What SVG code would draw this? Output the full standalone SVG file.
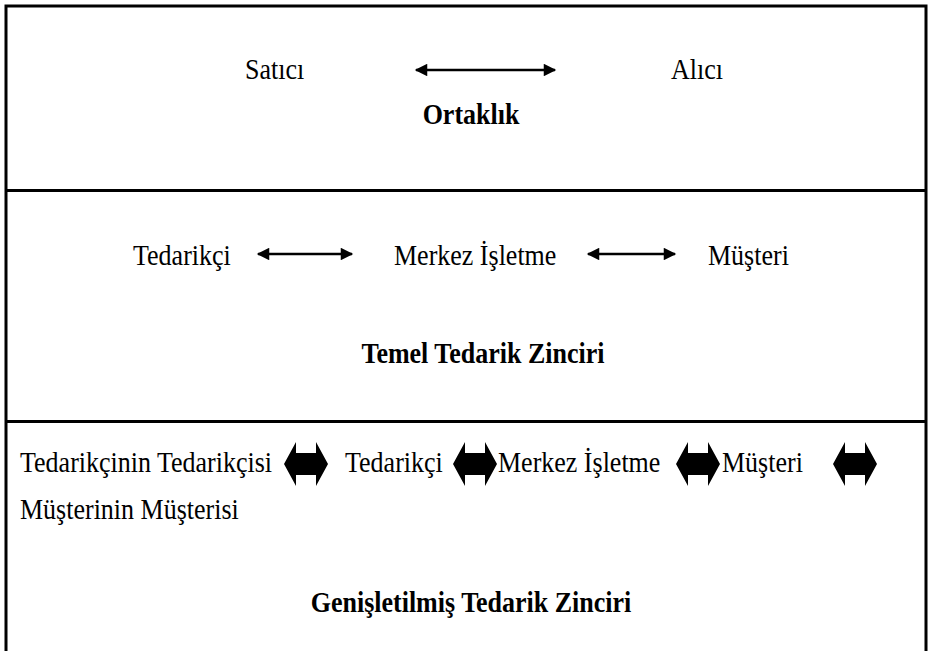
<svg xmlns="http://www.w3.org/2000/svg" width="930" height="651" viewBox="0 0 930 651">
<style>
.t{font-family:"Liberation Serif","Times New Roman",serif;font-size:26px;fill:#000}
.b{font-weight:bold}
.frame{stroke:#000;stroke-width:3;fill:none}
.ln{stroke:#000;stroke-width:2.5;fill:none}
.blk{fill:#000}
</style>
<defs>
<marker id="ah" viewBox="0 0 10 10" refX="9" refY="5" markerWidth="5.5" markerHeight="5" orient="auto-start-reverse" markerUnits="strokeWidth">
<path d="M0,0 L10,5 L0,10 Z" fill="#000"/>
</marker>
<path id="blockArrow" d="M0,22 L12,0 L12,11 L32,11 L32,0 L44,22 L32,44 L32,33 L12,33 L12,44 Z"/>
</defs>
<g id="frame">
<path class="frame" d="M6,652 L6,6 L926,6 L926,652"/>
<line class="frame" x1="6" y1="190.5" x2="926" y2="190.5"/>
<line class="frame" x1="6" y1="421.5" x2="926" y2="421.5"/>
</g>
<g id="connectors">
<line class="ln" x1="416" y1="70" x2="555" y2="70" marker-start="url(#ah)" marker-end="url(#ah)"/>
<line class="ln" x1="258" y1="254" x2="352" y2="254" marker-start="url(#ah)" marker-end="url(#ah)"/>
<line class="ln" x1="588" y1="254" x2="675" y2="254" marker-start="url(#ah)" marker-end="url(#ah)"/>
<use href="#blockArrow" class="blk" x="284" y="442"/>
<use href="#blockArrow" class="blk" x="453" y="442"/>
<use href="#blockArrow" class="blk" x="676" y="442"/>
<use href="#blockArrow" class="blk" x="833" y="442"/>
</g>
<g id="n-satici"><text class="t" transform="translate(245,79) scale(1,1.12)">Satıcı</text></g>
<g id="n-alici"><text class="t" transform="translate(671,79) scale(1,1.12)">Alıcı</text></g>
<g id="n-ortaklik"><text class="t b" text-anchor="middle" transform="translate(471,124) scale(1,1.12)">Ortaklık</text></g>
<g id="n-tedarikci"><text class="t" transform="translate(133,265) scale(1,1.12)">Tedarikçi</text></g>
<g id="n-merkez"><text class="t" transform="translate(394,265) scale(1,1.12)">Merkez İşletme</text></g>
<g id="n-musteri"><text class="t" transform="translate(708,265) scale(1,1.12)">Müşteri</text></g>
<g id="n-temel"><text class="t b" text-anchor="middle" transform="translate(483,363) scale(1,1.12)">Temel Tedarik Zinciri</text></g>
<g id="n-ext-tt"><text class="t" transform="translate(20,472) scale(1,1.12)">Tedarikçinin Tedarikçisi</text></g>
<g id="n-ext-t"><text class="t" transform="translate(345,472) scale(1,1.12)">Tedarikçi</text></g>
<g id="n-ext-m"><text class="t" transform="translate(498,472) scale(1,1.12)">Merkez İşletme</text></g>
<g id="n-ext-mu"><text class="t" transform="translate(722,472) scale(1,1.12)">Müşteri</text></g>
<g id="n-ext-mm"><text class="t" transform="translate(20,519) scale(1,1.12)">Müşterinin Müşterisi</text></g>
<g id="n-genis"><text class="t b" text-anchor="middle" transform="translate(471,612) scale(1,1.12)">Genişletilmiş Tedarik Zinciri</text></g>
</svg>
